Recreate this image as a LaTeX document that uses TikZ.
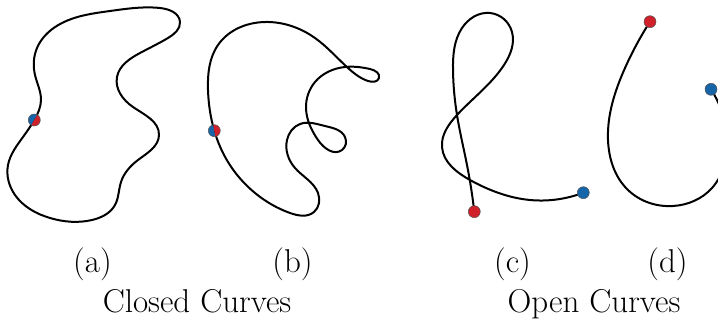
\documentclass[tikz,border=0pt]{standalone}
\usetikzlibrary{hobby}
\definecolor{dotred}{HTML}{D0202A}
\definecolor{dotblue}{HTML}{1565A8}
\definecolor{dotedge}{HTML}{555555}
\tikzset{
  curve/.style={line width=2pt, black, line join=round, line cap=round, use Hobby shortcut},
  lbl/.style={font=\fontsize{33}{38}\selectfont, anchor=base, inner sep=0pt},
}
\newcommand{\tipdot}[2]{%
  \fill[#2, draw=dotedge, line width=0.5pt] #1 circle[radius=6pt];}
\newcommand{\splitdot}[2]{%
  \fill[dotblue] #1 ++(#2:6pt) arc[start angle=#2, delta angle=180, radius=6pt] -- cycle;
  \fill[dotred] #1 ++(#2+180:6pt) arc[start angle=#2+180, delta angle=180, radius=6pt] -- cycle;
  \draw[dotedge, line width=0.5pt] #1 circle[radius=6pt];}
\begin{document}
\begin{tikzpicture}[x=1pt,y=-1pt]
\useasboundingbox (0,0) rectangle (718,324);
\begin{scope}
\clip (0,0) rectangle (718,324);
% (a)
\draw[curve, closed=true] (34.3,120) .. (41,100) .. (35,75) .. (37,48) .. (62,23)
 .. (110,11) .. (160,8) .. (180,22) .. (168,38) .. (140,53) .. (117,77) .. (133,107)
 .. (159,135) .. (138,160) .. (121,182) .. (115,205) .. (92,220) .. (50,218)
 .. (15,195) .. (8,165) .. (23,137);
% (b)
\draw[curve, closed=true] (214.3,130.7) .. (208,90) .. (218,45) .. (265,22)
 .. (315,38) .. (348,68) .. (368,81) .. (379,78) .. (370,69) .. (345,67)
 .. (315,82) .. (306,108) .. (318,140) .. (342,150) .. (345,137) .. (325,126)
 .. (300,124) .. (287,140) .. (295,168) .. (318,193) .. (314,212) .. (290,213)
 .. (255,193) .. (228,162);
% (c)
\coordinate (cr) at (474.3,211.7);
\coordinate (cb) at (583.3,192.7);
\draw[curve] (cr) .. (467,165) .. (457,115) .. (453,70) .. (462,28) .. (490,13)
 .. (512,32) .. (504,65) .. (457,115) .. (442,147) .. (470,180) .. (530,200) .. (cb);
% (d)
\coordinate (dr) at (650,21.7);
\coordinate (db) at (711,89.3);
\draw[curve] (dr) .. (625,68) .. (608,140) .. (628,190) .. (673,206) .. (712,188)
 .. (727,140) .. (db);
\end{scope}
\begin{scope}[y=1pt]
\splitdot{(34.3,-120)}{60}
\splitdot{(214.3,-130.7)}{100}
\end{scope}
\tipdot{(cr)}{dotred}
\tipdot{(cb)}{dotblue}
\tipdot{(dr)}{dotred}
\tipdot{(db)}{dotblue}
\node[lbl] (la) at (92.5,272) {(a)};
\node[lbl] (lb) at (292.5,272) {(b)};
\node[lbl] (lc) at (512.5,272) {(c)};
\node[lbl] (ld) at (667.5,272) {(d)};
\node[lbl] (lclosed) at (197,312) {Closed Curves};
\node[lbl] (lopen) at (594,312) {Open Curves};
\end{tikzpicture}
\end{document}
